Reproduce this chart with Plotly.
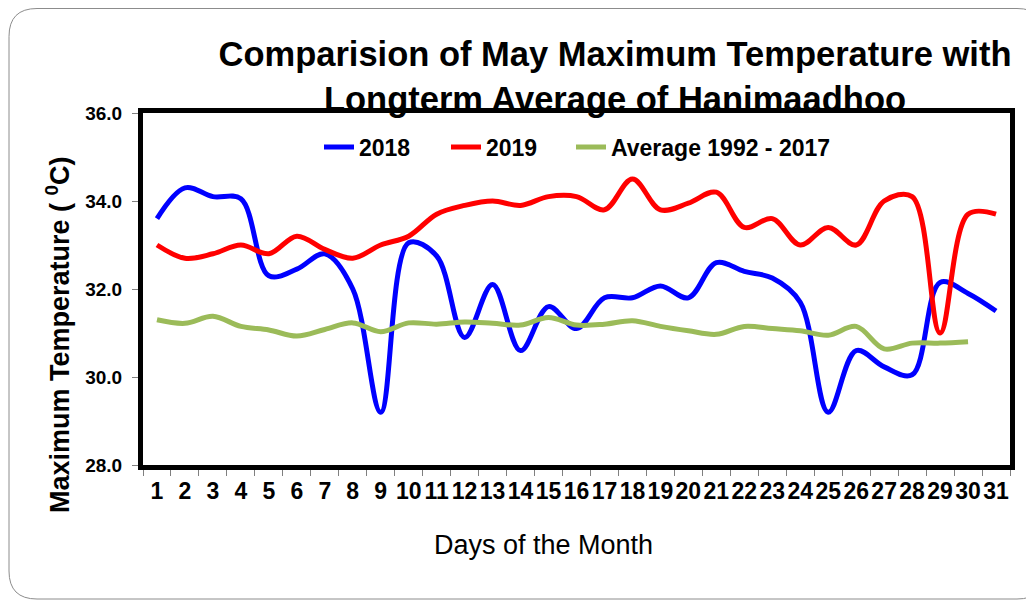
import plotly.graph_objects as go

days = [str(d) for d in range(1, 32)]

temp_2018 = [33.6, 34.3, 34.1, 34.05, 32.3, 32.45, 32.8, 32.0, 29.2, 33.05,
             32.75, 30.9, 32.1, 30.6, 31.6, 31.1, 31.8, 31.8, 32.07, 31.8,
             32.6, 32.4, 32.25, 31.7, 29.2, 30.6, 30.23, 30.05, 32.15, 31.9, 31.5]

temp_2019 = [33.0, 32.7, 32.8, 33.0, 32.8, 33.2, 32.9, 32.7, 33.0, 33.2,
             33.7, 33.9, 34.0, 33.9, 34.1, 34.1, 33.8, 34.5, 33.8, 33.95,
             34.2, 33.4, 33.6, 33.0, 33.4, 33.0, 34.0, 34.1, 31.0, 33.7, 33.7]

temp_avg = [31.3, 31.22, 31.38, 31.15, 31.07, 30.93, 31.08, 31.23, 31.03, 31.23,
            31.2, 31.25, 31.22, 31.18, 31.35, 31.18, 31.2, 31.28, 31.15, 31.05,
            30.97, 31.15, 31.1, 31.05, 30.95, 31.15, 30.64, 30.77, 30.77, 30.8, None]

series_names = ["2018", "2019", "Average 1992 - 2017"]
series_colors = ["#0000FF", "#FF0000", "#9BBB59"]
legend_ids = ["legend", "legend2", "legend3"]

FONT = "Liberation Sans, Arial, sans-serif"
OFF = 8  # page body margin
W, H = 1034 - OFF, 600 - OFF
# plot-area edges in page pixels, converted to figure pixels
L, R, T, B = 143 - OFF, 1010 - OFF, 113 - OFF, 465 - OFF

fig = go.Figure()
for name, vals, col, lg in zip(series_names, [temp_2018, temp_2019, temp_avg],
                                series_colors, legend_ids):
    fig.add_trace(go.Scatter(
        x=days, y=vals, name=name, mode="lines", legend=lg,
        line=dict(color=col, width=5, shape="spline", smoothing=1),
        connectgaps=False,
    ))

def px(x):
    return (x - OFF - L) / (R - L)

def py(y):
    return (B - (y - OFF)) / (B - T)

# rounded outer border (decoration)
x0, y0, x1, y1, r = 9, 8.5, 1045, 599, 28
path = (
    f"M {px(x0+r)},{py(y0)} L {px(x1-r)},{py(y0)} "
    f"Q {px(x1)},{py(y0)} {px(x1)},{py(y0+r)} "
    f"L {px(x1)},{py(y1-r)} Q {px(x1)},{py(y1)} {px(x1-r)},{py(y1)} "
    f"L {px(x0+r)},{py(y1)} Q {px(x0)},{py(y1)} {px(x0)},{py(y1-r)} "
    f"L {px(x0)},{py(y0+r)} Q {px(x0)},{py(y0)} {px(x0+r)},{py(y0)} Z"
)

legend_font = dict(size=23, family=FONT, color="black", weight="bold")
legend_x = [319, 446, 571]

fig.update_layout(
    width=W, height=H,
    margin=dict(l=L, r=W - R, t=T, b=H - B, autoexpand=False),
    paper_bgcolor="white", plot_bgcolor="white",
    font=dict(family=FONT, color="black"),
    title=dict(
        text="<b>Comparision of May Maximum Temperature with<br>Longterm Average of Hanimaadhoo</b>",
        x=(615 - OFF) / W, xanchor="center", xref="container",
        y=1 - (66 - OFF) / H, yanchor="middle", yref="container",
        font=dict(size=34.5, family=FONT, color="black"),
    ),
    shapes=[dict(type="path", xref="paper", yref="paper", path=path,
                 line=dict(color="#8c8c8c", width=1), layer="below")],
    annotations=[
        dict(text="<b>Maximum Temperature ( <sup>0</sup>C)</b>", textangle=-90,
             xref="paper", yref="paper", x=px(58), y=py(335),
             xanchor="center", yanchor="middle", showarrow=False,
             font=dict(size=27, family=FONT, color="black")),
        dict(text="Days of the Month",
             xref="paper", yref="paper", x=px(543), y=py(545),
             xanchor="center", yanchor="middle", showarrow=False,
             font=dict(size=27, family=FONT, color="black")),
    ],
    showlegend=True,
)
for lg, lx in zip(legend_ids, legend_x):
    fig.update_layout({lg: dict(
        orientation="h", x=px(lx), y=py(147), xanchor="left", yanchor="middle",
        font=legend_font, bgcolor="rgba(0,0,0,0)",
    )})

fig.update_xaxes(
    type="category", range=[-0.5, 30.5],
    tickmode="array", tickvals=days, ticktext=days, tickangle=0,
    tickson="boundaries", ticks="outside", ticklen=6, tickcolor="#808080", tickwidth=1,
    ticklabelstandoff=1,
    showline=True, linecolor="black", linewidth=5, mirror=True,
    showgrid=False, zeroline=False,
    tickfont=dict(size=23, family=FONT, color="black", weight="bold"),
)
fig.update_yaxes(
    range=[28, 36], dtick=2, tickformat=".1f",
    ticks="outside", ticklen=6, tickcolor="#808080", tickwidth=1,
    ticklabelstandoff=6,
    showline=True, linecolor="black", linewidth=5, mirror=True,
    showgrid=False, zeroline=False,
    tickfont=dict(size=19, family=FONT, color="black", weight="bold"),
)

fig.write_html("out.html")
